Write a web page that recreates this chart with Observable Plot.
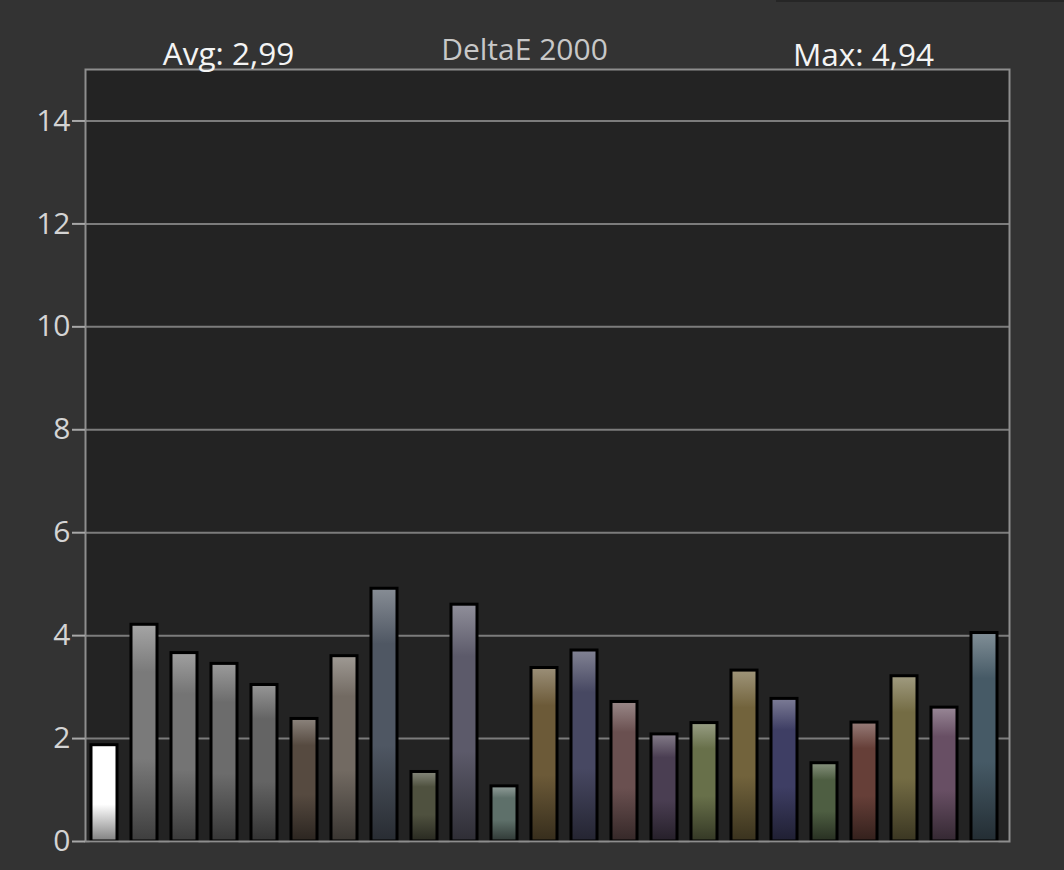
<!DOCTYPE html>
<html>
<head>
<meta charset="utf-8">
<script src="https://cdn.jsdelivr.net/npm/d3@7"></script>
<script src="https://cdn.jsdelivr.net/npm/@observablehq/plot@0.6"></script>
<style>
  html, body { margin: 0; padding: 0; background: #333333; }
  #wrap { position: relative; width: 1064px; height: 870px; overflow: hidden; }
  #strip { position: absolute; left: 776px; top: 0; width: 288px; height: 2px; background: #262626; }
</style>
</head>
<body>
<div id="wrap"><div id="strip"></div><div id="chart"></div></div>
<script>
// ---- data ----
const patchIndex = d3.range(1, 24);
const deltaE = [1.90, 4.24, 3.69, 3.48, 3.07, 2.41, 3.63, 4.94, 1.38, 4.63, 1.10, 3.40,
                3.74, 2.74, 2.11, 2.33, 3.35, 2.80, 1.55, 2.34, 3.24, 2.63, 4.08];
const patchColors = ["#ffffff", "#7a7a7a", "#747474", "#6c6c6c", "#646464", "#564a40",
                     "#726a62", "#4f5763", "#4f513f", "#5c5a6a", "#5e706a", "#6c5a38",
                     "#474862", "#6a5050", "#4a3e52", "#68704a", "#72633c", "#3e3e64",
                     "#4e5e42", "#663f38", "#746c44", "#684f64", "#465a66"];
const yTicks = [0, 2, 4, 6, 8, 10, 12, 14];
const titleText = "DeltaE 2000";
const avgText = "Avg: 2,99";
const maxText = "Max: 4,94";

const rows = patchIndex.map((p, i) => ({p, v: deltaE[i], c: patchColors[i]}));

const defsMark = () => {
  const g = d3.create("svg:g");
  const defs = g.append("defs");
  rows.forEach((r) => {
    const lg = defs.append("linearGradient")
      .attr("id", "grad" + r.p)
      .attr("x1", 0).attr("y1", 0).attr("x2", 0).attr("y2", 1);
    const top = d3.interpolateRgb(r.c, "#ffffff")(0.32);
    const bot = d3.interpolateRgb(r.c, "#000000")(0.5);
    lg.append("stop").attr("offset", "0%").attr("stop-color", top);
    lg.append("stop").attr("offset", "22%").attr("stop-color", r.c);
    lg.append("stop").attr("offset", "62%").attr("stop-color", r.c);
    lg.append("stop").attr("offset", "100%").attr("stop-color", bot);
  });
  return g.node();
};

const chart = Plot.plot({
  width: 1064,
  height: 870,
  marginLeft: 85,
  marginRight: 55,
  marginTop: 69,
  marginBottom: 29,
  style: {background: "transparent", fontFamily: "Open Sans", overflow: "visible"},
  x: {type: "band", domain: patchIndex, paddingInner: 0.343, paddingOuter: 0.171, align: 0.345, axis: null},
  y: {domain: [0, 15], axis: null},
  color: {type: "identity"},
  marks: [
    defsMark,
    Plot.frame({fill: "#232323"}),
    Plot.ruleY(yTicks.filter(d => d > 0), {stroke: "#7c7c7c", strokeWidth: 2}),
    Plot.barY(rows, {x: "p", y: "v", fill: d => "url(#grad" + d.p + ")", stroke: "#000000", strokeWidth: 3, insetTop: 1.5}),
    Plot.frame({stroke: "#8e8e8e", strokeWidth: 2}),
    Plot.axisY({ticks: yTicks, label: null, tickSize: 13, tickPadding: 2, fontSize: 30, color: "#d4d4d4", stroke: "#a8a8a8", strokeWidth: 2, tickFormat: d => String(d)}),
    Plot.text([avgText], {frameAnchor: "top-left", dx: 143, dy: -5, lineAnchor: "bottom", textAnchor: "middle", fontSize: 31.5, fill: "#f4f4f4"}),
    Plot.text([titleText], {frameAnchor: "top-left", dx: 439, dy: -10, lineAnchor: "bottom", textAnchor: "middle", fontSize: 30, fill: "#c8c8c8"}),
    Plot.text([maxText], {frameAnchor: "top-left", dx: 778, dy: -4, lineAnchor: "bottom", textAnchor: "middle", fontSize: 31.5, fill: "#f4f4f4"})
  ]
});
document.getElementById("chart").appendChild(chart);
</script>
</body>
</html>
